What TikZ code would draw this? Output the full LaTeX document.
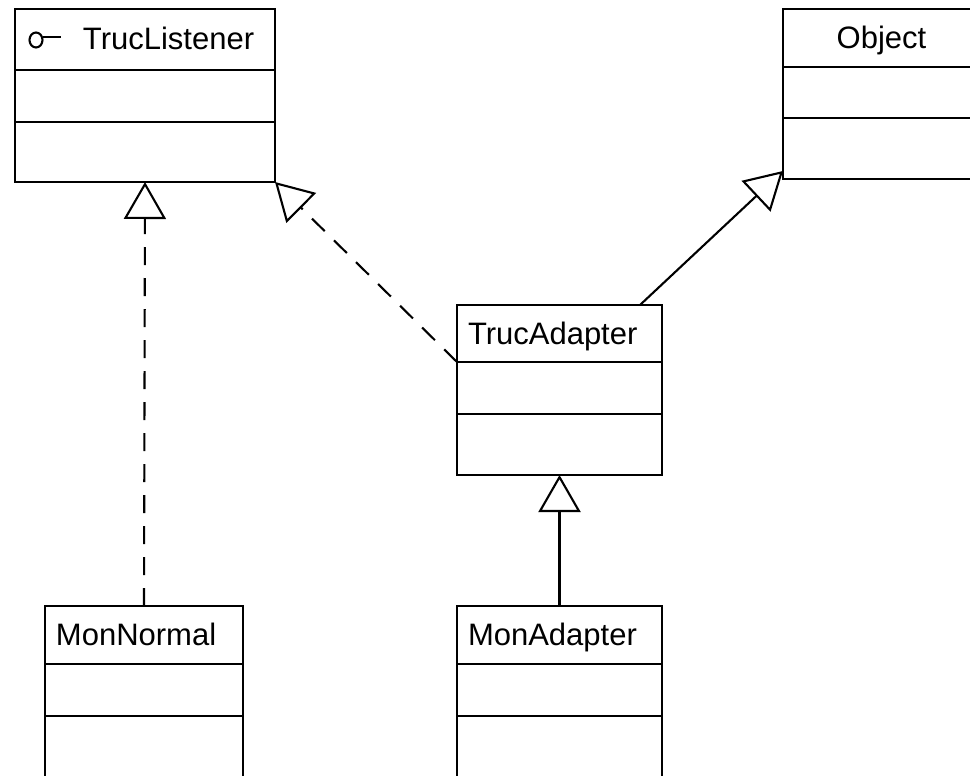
\documentclass[tikz,border=0pt]{standalone}
\usepackage{fontspec}
\setmainfont{Liberation Sans}
\usetikzlibrary{arrows.meta,positioning,calc}

\begin{document}
\begin{tikzpicture}[
    x=1pt, y=-1pt,
    line width=2.1pt,
    font=\fontsize{31}{36}\selectfont,
    classname/.style={draw, rectangle, anchor=north west, inner sep=0pt, outer sep=0pt,
        inner xsep=11pt, text width=#1, align=left, minimum height=58pt,
        text height=23pt, text depth=2pt},
    compart/.style={draw, rectangle, inner sep=0pt, outer sep=0pt, minimum height=#1},
    realise/.style={dash pattern=on 18pt off 13pt, -{Triangle[open, length=37pt, width=42pt]}},
    inherit/.style={-{Triangle[open, length=37pt, width=42pt]}}
]
\useasboundingbox (0,0) rectangle (970,776);

% Interface
\node[classname=238pt, minimum height=61pt] (listener) at (15,9) {\hspace*{57pt}TrucListener};
\node[compart=52pt, minimum width=260pt, below=0pt of listener] (listener-attr) {};
\node[compart=60pt, minimum width=260pt, below=0pt of listener-attr] (listener-ops) {};
\draw (36,40) ellipse [x radius=6.5, y radius=7.5];
\draw (42.5,37) -- (61,37);

% Object
\node[classname=175pt, align=center] (object) at (783,9) {Object};
\node[compart=51pt, minimum width=197pt, below=0pt of object] (object-attr) {};
\node[compart=61pt, minimum width=197pt, below=0pt of object-attr] (object-ops) {};

% Adaptateur
\node[classname=183pt, minimum height=57pt] (adapter) at (457,305) {TrucAdapter};
\node[compart=52pt, minimum width=205pt, below=0pt of adapter] (adapter-attr) {};
\node[compart=61pt, minimum width=205pt, below=0pt of adapter-attr] (adapter-ops) {};

% Classes du bas
\node[classname=176pt] (normal) at (45,606) {MonNormal};
\node[compart=52pt, minimum width=198pt, below=0pt of normal] (normal-attr) {};
\node[compart=70pt, minimum width=198pt, below=0pt of normal-attr] (normal-ops) {};

\node[classname=183pt] (monadapter) at (457,606) {MonAdapter};
\node[compart=52pt, minimum width=205pt, below=0pt of monadapter] (monadapter-attr) {};
\node[compart=70pt, minimum width=205pt, below=0pt of monadapter-attr] (monadapter-ops) {};

% Liens
\draw[realise] (normal.north) -- (listener-ops.south);
\draw[realise] (adapter.south west) -- (listener-ops.south east);
\draw[inherit] ($(adapter.north east)+(-22,0)$) -- ($(object-ops.south west)+(0,-8)$);
\draw[inherit] (monadapter.north) -- (adapter-ops.south);

\end{tikzpicture}
\end{document}
